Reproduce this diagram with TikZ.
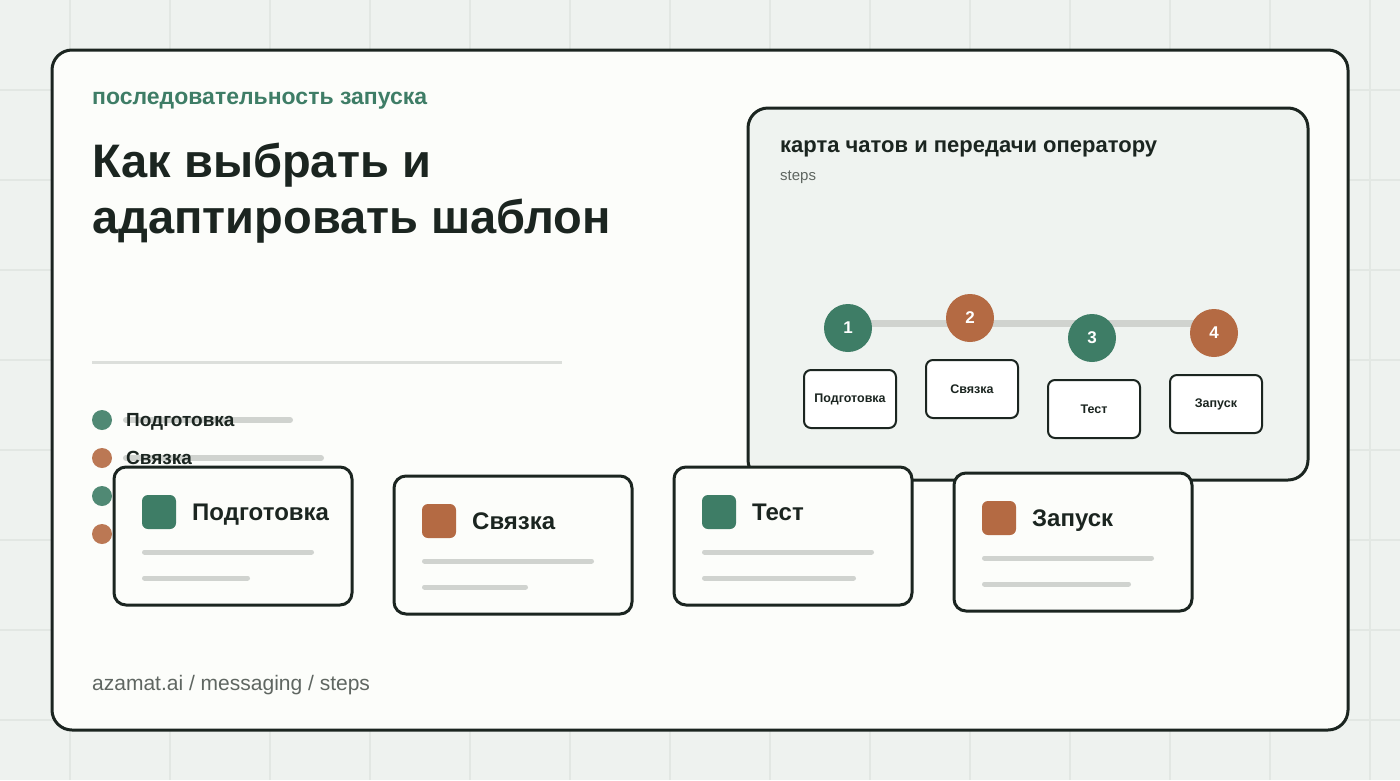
\documentclass[tikz,border=0pt]{standalone}
\usepackage{fontspec}
\setmainfont{Liberation Sans}
\usepackage{xcolor}
\usepackage{tikz}
\usetikzlibrary{positioning, calc}
\definecolor{bgpage}{RGB}{238,242,239}
\definecolor{gridln}{RGB}{226,231,227}
\definecolor{cardfill}{RGB}{252,253,250}
\definecolor{panelfill}{RGB}{239,243,240}
\definecolor{inkdark}{RGB}{27,37,32}
\definecolor{mygreen}{RGB}{62,125,102}
\definecolor{myorange}{RGB}{180,106,67}
\definecolor{bargray}{RGB}{208,211,207}
\definecolor{divgray}{RGB}{220,223,219}
\definecolor{mutedtxt}{RGB}{95,102,97}
\newcommand{\px}[1]{\fontsize{#1}{#1}\selectfont}
\tikzset{
  frame/.style={draw=inkdark, line width=3pt, rounded corners=20pt},
  stepcard/.style={draw=inkdark, fill=cardfill, line width=3pt, rounded corners=12pt},
  stepbox/.style={rectangle, draw=inkdark, fill=white, line width=2pt,
    rounded corners=7pt, minimum width=92pt, minimum height=58pt,
    font=\px{12.5}\bfseries, text=inkdark},
  stepdot/.style={circle, minimum size=48pt, inner sep=0pt,
    font=\px{17}\bfseries, text=white},
  icon/.style={rectangle, rounded corners=6pt, minimum size=34pt, inner sep=0pt},
  bullet/.style={circle, minimum size=20pt, inner sep=0pt, opacity=0.9},
  bar/.style={bargray, line width=6pt, line cap=round},
  thinbar/.style={bargray, line width=5pt, line cap=round},
  lbl/.style={anchor=base west, inner sep=0pt, text=inkdark}
}

\begin{document}
\begin{tikzpicture}[x=1pt, y=-1pt]
  \useasboundingbox (0,0) rectangle (1400,780);

  % ── background grid ────────────────────────────────────────────────
  \fill[bgpage] (0,0) rectangle (1400,780);
  \foreach \gx in {70,170,...,1370}
    \draw[gridln, line width=1.5pt] (\gx,0) -- (\gx,780);
  \foreach \gy in {90,180,...,720}
    \draw[gridln, line width=1.5pt] (0,\gy) -- (1400,\gy);

  % ── main card ──────────────────────────────────────────────────────
  \draw[frame, fill=cardfill] (52,50) rectangle (1348,730);

  \node[lbl, text=mygreen, font=\px{23}\bfseries] (kicker) at (92,104)
    {последовательность запуска};
  \node[lbl, font=\px{47}\bfseries] (title1) at (92,177) {Как выбрать и};
  \node[lbl, font=\px{47}\bfseries] (title2) at (92,233) {адаптировать шаблон};

  \draw[divgray, line width=3pt] (92,362) -- (562,362);

  % bullet list (partly covered by the cards)
  \foreach \i/\col in {1/mygreen, 2/myorange, 3/mygreen, 4/myorange}
    \node[bullet, fill=\col] (b\i) at (102,382+38*\i) {};
  \draw[bar] (126,420) -- (290,420);
  \draw[bar] (126,458) -- (321,458);
  \node[lbl, font=\px{19}\bfseries] (bl1) at (126,426) {Подготовка};
  \node[lbl, font=\px{19}\bfseries] (bl2) at (126,464) {Связка};

  % ── steps panel ────────────────────────────────────────────────────
  \draw[frame, fill=panelfill] (748,108) rectangle (1308,480);
  \node[lbl, font=\px{22}\bfseries] (ptitle) at (780,152)
    {карта чатов и передачи оператору};
  \node[lbl, text=mutedtxt, font=\px{15}] (psub) at (780,180) {steps};

  % track behind the numbered dots
  \coordinate (trackA) at (848,323);
  \coordinate (trackB) at (1214,323);
  \draw[bargray, line width=7pt] (trackA) -- (trackB);

  \node[stepdot, fill=mygreen]  (c1) at (848,328)  {1};
  \node[stepdot, fill=myorange] (c2) at (970,318)  {2};
  \node[stepdot, fill=mygreen]  (c3) at (1092,338) {3};
  \node[stepdot, fill=myorange] (c4) at (1214,333) {4};

  \node[stepbox] (s1) at (850,399)  {Подготовка};
  \node[stepbox] (s2) at (972,389)  {Связка};
  \node[stepbox] (s3) at (1094,409) {Тест};
  \node[stepbox] (s4) at (1216,404) {Запуск};

  % ── step cards ─────────────────────────────────────────────────────
  \foreach \cx/\cy/\col/\txt/\wb in {114/467/mygreen/Подготовка/103,
                                     394/476/myorange/Связка/101,
                                     674/467/mygreen/Тест/149,
                                     954/473/myorange/Запуск/144} {
    \draw[stepcard] (\cx,\cy) rectangle ++(238,138);
    \node[icon, fill=\col] at (\cx+45,\cy+45) {};
    \node[lbl, font=\px{24}\bfseries] at (\cx+78,\cy+53) {\txt};
    \draw[thinbar] (\cx+30.5,\cy+85) -- ++(167,0);
    \draw[thinbar] (\cx+30.5,\cy+111) -- ++(\wb,0);
  }

  % ── footer ─────────────────────────────────────────────────────────
  \node[lbl, text=mutedtxt, font=\px{21}] (foot) at (92,690)
    {azamat.ai / messaging / steps};
\end{tikzpicture}
\end{document}
